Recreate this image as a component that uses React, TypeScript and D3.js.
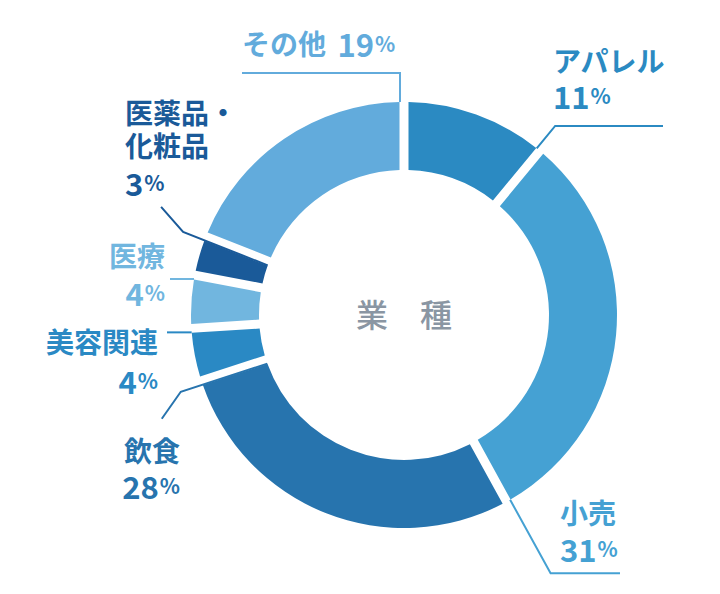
import * as d3 from "d3";

// 業種の構成比（時計回り、12時の位置から）
const categories = ["アパレル", "小売", "飲食", "美容関連", "医療", "医薬品・化粧品", "その他"];
const shares = [11, 31, 28, 4, 4, 3, 19];
const sliceColors = ["#2b8ac2", "#45a1d3", "#2774ae", "#2a89c4", "#71b6df", "#1a5a99", "#62abdc"];
const centerTitle = "業　種";

const width = 720;
const height = 594;
const cx = 404;
const cy = 315;
const outerR = 213;
const innerR = 145;
const gap = 9;

type Pt = [number, number];

interface LabelLayout {
  x: number;
  anchor: "start" | "end";
  lines: string[];
  ys: number[];
  pctY: number | null; // null = 名前と同じ行
  r0: number;
  r1: number;
  tail: (elbow: Pt) => Pt;
}

// ラベル配置とリーダー線（形状だけ、値はデータ配列から）
const layout: Record<string, LabelLayout> = {
  アパレル: { x: 553, anchor: "start", lines: ["アパレル"], ys: [60], pctY: 95, r0: outerR, r1: 242, tail: (e) => [663, e[1]] },
  小売: { x: 560, anchor: "start", lines: ["小売"], ys: [512], pctY: 548, r0: outerR, r1: 297, tail: (e) => [620, e[1]] },
  飲食: { x: 180, anchor: "end", lines: ["飲食"], ys: [450], pctY: 485, r0: innerR, r1: 236, tail: (e) => [e[0] - 19, e[1] + 27] },
  美容関連: { x: 158, anchor: "end", lines: ["美容関連"], ys: [341], pctY: 380, r0: outerR, r1: outerR, tail: (e) => [167, e[1]] },
  医療: { x: 165, anchor: "end", lines: ["医療"], ys: [255], pctY: 292, r0: outerR, r1: outerR, tail: () => [170, 279] },
  "医薬品・化粧品": { x: 125, anchor: "start", lines: ["医薬品・", "化粧品"], ys: [112, 145], pctY: 182, r0: innerR, r1: 236, tail: (e) => [e[0] - 22, e[1] - 25] },
  その他: { x: 242, anchor: "start", lines: ["その他"], ys: [43], pctY: null, r0: outerR, r1: 242, tail: (e) => [242, e[1]] },
};

const fontFamily = '"Noto Sans CJK JP", "Noto Sans", sans-serif';

// スライスの終端エッジ上の点（隙間の半分だけスライス側へ寄せる）
function edgePoint(a: number, r: number): Pt {
  const off = gap / 2 - 0.5;
  return [cx + r * Math.sin(a) - off * Math.cos(a), cy - r * Math.cos(a) - off * Math.sin(a)];
}

export default function App() {
  const pie = d3.pie<number>().sort(null).value((d) => d);
  const arcs = pie(shares);
  const arcGen = d3
    .arc<d3.PieArcDatum<number>>()
    .innerRadius(innerR)
    .outerRadius(outerR)
    .padAngle(gap / 100)
    .padRadius(100);

  return (
    <svg
      width={width}
      height={height}
      style={{ position: "absolute", left: 0, top: 0, background: "#fff" }}
      fontFamily={fontFamily}
    >
      <g transform={`translate(${cx},${cy})`}>
        {arcs.map((a, i) => (
          <path key={categories[i]} d={arcGen(a)!} fill={sliceColors[i]} />
        ))}
      </g>

      {arcs.map((a, i) => {
        const L = layout[categories[i]];
        const p0 = edgePoint(a.endAngle, L.r0);
        const p1 = edgePoint(a.endAngle, L.r1);
        const p2 = L.tail(p1);
        const pts = L.r1 === L.r0 ? [p0, p2] : [p0, p1, p2];
        return (
          <polyline
            key={"l" + i}
            points={pts.map((p) => p.join(",")).join(" ")}
            fill="none"
            stroke={sliceColors[i]}
            strokeWidth={2}
          />
        );
      })}

      {categories.map((c, i) => {
        const L = layout[c];
        const col = sliceColors[i];
        const pct = (
          <>
            <tspan fontSize={31} dx={L.pctY === null ? 5 : 0}>{shares[i]}</tspan>
            <tspan fontSize={21} dx={1}>%</tspan>
          </>
        );
        return (
          <g key={"t" + i} fill={col} fontWeight="bold" textAnchor={L.anchor}>
            {L.lines.map((ln, j) => (
              <text key={j} x={L.x} y={L.ys[j]} fontSize={28} dominantBaseline="central">
                {ln}
                {L.pctY === null && j === L.lines.length - 1 ? <> {pct}</> : null}
              </text>
            ))}
            {L.pctY !== null && (
              <text x={L.x} y={L.pctY} dominantBaseline="central">
                {pct}
              </text>
            )}
          </g>
        );
      })}

      <text
        x={cx}
        y={cy - 2}
        textAnchor="middle"
        dominantBaseline="central"
        fontSize={32}
        fontWeight={500}
        fill="#8a96a3"
      >
        {centerTitle}
      </text>
    </svg>
  );
}
